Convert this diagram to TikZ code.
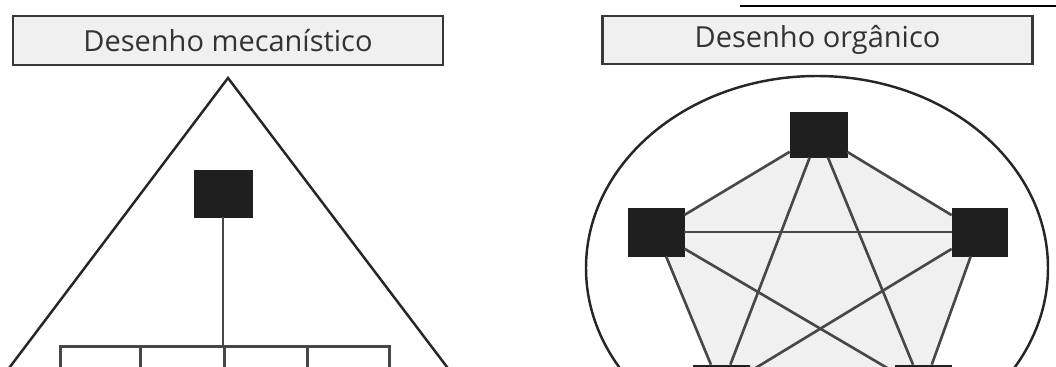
\documentclass[tikz,border=0pt]{standalone}
\usepackage{fontspec}
\setmainfont{Open Sans}
\usetikzlibrary{backgrounds}
\begin{document}
\begin{tikzpicture}[x=0.02cm,y=-0.02cm,
  titlebox/.style={draw=black!78, line width=1.4pt, fill=black!6, minimum width=8.6cm, minimum height=0.97cm, inner sep=0pt, font=\fontsize{16.5}{19}\selectfont, text=black!80},
  sq/.style={fill=black!88, draw=black!88, line width=0.4pt, inner sep=0pt},
  ln/.style={draw=black!72, line width=1.5pt},
  cell/.style={draw=black!72, line width=1.5pt, minimum height=1.6cm, inner sep=0pt, anchor=north west},
  outline/.style={draw=black!85, line width=1.4pt}]
\useasboundingbox (0,0) rectangle (1056,367);
\clip (0,0) rectangle (1056,367);

% title boxes
\node[titlebox] (tl) at (228,40.5) {Desenho mecanístico};
\node[titlebox] (tr) at (817.5,40) {Desenho orgânico};
\coordinate (rl1) at (740,6);
\coordinate (rl2) at (1056,6);
\draw[black, line width=1pt] (rl1) -- (rl2);

% mechanistic
\coordinate (apex) at (228,78);
\coordinate (tbl) at (-15,400);
\coordinate (tbr) at (472,400);
\draw[outline] (tbl) -- (apex) -- (tbr);
\node[sq, minimum width=1.16cm, minimum height=0.94cm] (boss) at (223,193.5) {};
\node[cell, minimum width=1.6cm] (c1) at (59,345) {};
\node[cell, minimum width=1.68cm] (c2) at (139,345) {};
\node[cell, minimum width=1.66cm] (c3) at (223,345) {};
\node[cell, minimum width=1.64cm] (c4) at (306,345) {};
\draw[ln] (boss) -- (c3.north west);

% organic
\draw[outline] (817,268) ellipse [x radius=231, y radius=192];
\node[sq, minimum width=1.14cm, minimum height=0.9cm] (t) at (818.5,134.5) {};
\node[sq, minimum width=1.12cm, minimum height=0.96cm] (l) at (656,232) {};
\node[sq, minimum width=1.1cm, minimum height=0.96cm] (r) at (979.5,232) {};
\node[sq, minimum width=1.12cm, minimum height=0.96cm] (bl) at (721,389) {};
\node[sq, minimum width=1.12cm, minimum height=0.96cm] (br) at (923,389) {};
\begin{scope}[on background layer]
\fill[white] (0,0) rectangle (1056,367);
\fill[black!6] (t.center) -- (r.center) -- (br.center) -- (bl.center) -- (l.center) -- cycle;
\end{scope}
\foreach \a/\b in {t/l,t/r,t/bl,t/br,l/r,l/bl,l/br,r/bl,r/br,bl/br}
  \draw[ln] (\a) -- (\b);
\end{tikzpicture}
\end{document}
